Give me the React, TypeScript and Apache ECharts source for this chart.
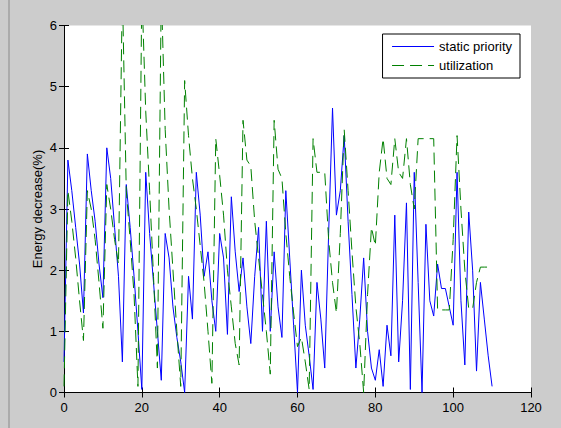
import React, { useEffect, useRef } from "react";
import * as echarts from "echarts";

const xTicks = [0, 20, 40, 60, 80, 100, 120];
const yTicks = [0, 1, 2, 3, 4, 5, 6];

const staticPriority = [
  0.5, 3.8, 3.3, 2.7, 2.1, 1.3, 3.9, 3.3, 2.8, 2.1,
  1.55, 4.0, 3.5, 2.7, 1.9, 0.5, 3.4, 2.7, 1.9, 1.0,
  0.05, 3.6, 2.6, 1.8, 1.0, 0.2, 2.6, 2.2, 1.4, 0.9,
  0.5, 0.0, 1.9, 1.2, 3.6, 2.9, 1.9, 2.3, 1.5, 1.0,
  2.6, 2.2, 0.95, 3.2, 2.3, 1.65, 2.2, 1.4, 0.8, 1.9,
  2.7, 1.0, 2.8, 1.0, 2.3, 1.4, 0.9, 3.3, 2.2, 1.1,
  0.0, 2.0, 1.1, 0.6, 0.05, 1.8, 1.2, 0.4, 2.6, 4.65,
  2.9, 3.3, 4.2, 2.8, 1.6, 0.4, 1.2, 2.2, 1.0, 0.4,
  0.2, 0.7, 0.1, 1.1, 0.6, 2.9, 0.5, 1.5, 3.1, 0.05,
  3.6, 1.8, 0.0, 2.75, 1.5, 1.25, 2.1, 1.7, 1.7, 1.4,
  1.1, 3.6, 1.5, 0.45, 2.95, 2.0, 0.35, 1.8, 1.2, 0.6,
  0.1,
];

const utilization = [
  0.1, 3.3, 2.8, 2.2, 1.5, 0.85, 3.3, 3.0, 2.5, 1.8,
  1.05, 3.4, 3.0, 2.5, 2.1, 6.6, 3.3, 2.5, 1.6, 0.1,
  6.6, 4.6, 3.3, 1.9, 0.4, 6.6, 4.3, 3.0, 2.0, 1.0,
  0.1, 5.1, 4.2, 3.5, 3.0, 2.4, 1.8, 1.0, 0.15, 4.15,
  3.55, 2.9, 2.0, 1.4, 0.8, 0.45, 4.45, 3.8, 3.7, 2.8,
  2.2, 1.6, 1.0, 0.3, 4.45, 3.65, 3.5, 2.6, 1.9, 1.3,
  0.75, 0.9, 0.5, 0.05, 4.15, 3.6, 3.6, 3.6, 2.5, 1.8,
  1.3, 2.6, 4.3, 3.3, 2.3, 1.4, 0.8, 0.0, 1.6, 2.7,
  2.4, 3.6, 4.15, 3.5, 3.4, 4.15, 3.6, 3.5, 4.15, 3.4,
  3.0, 4.15, 4.15, 4.15, 4.15, 4.15, 1.35, 1.35, 1.35, 1.35,
  2.5, 4.2, 3.0, 2.0, 1.37, 1.37, 1.8, 2.05, 2.05, 2.05,
];

const FONT = "'Liberation Sans', Arial, sans-serif";

export default function App() {
  const ref = useRef<HTMLDivElement>(null);

  useEffect(() => {
    if (!ref.current) return;
    const chart = echarts.init(ref.current, undefined, { renderer: "svg" });
    const xMin = xTicks[0];
    const xMax = xTicks[xTicks.length - 1];
    const yMin = yTicks[0];
    const yMax = yTicks[yTicks.length - 1];
    const axisCommon = {
      axisLine: { show: true, lineStyle: { color: "#000", width: 1 } },
      axisTick: { show: true, inside: true, length: 5, lineStyle: { color: "#000" } },
      splitLine: { show: false },
    };
    chart.setOption({
      animation: false,
      backgroundColor: "#cccccc",
      textStyle: { fontFamily: FONT },
      graphic: [
        {
          type: "line",
          shape: { x1: 9, y1: 0, x2: 9, y2: 428 },
          style: { stroke: "#8a8a8a", lineWidth: 1 },
        },
      ],
      grid: { left: 64, right: 30, top: 25.5, bottom: 35.5, show: true, backgroundColor: "#ffffff", borderWidth: 0 },
      legend: {
        right: 41,
        top: 34,
        orient: "vertical",
        backgroundColor: "#ffffff",
        borderColor: "#000",
        borderWidth: 1,
        borderRadius: 0,
        padding: [6, 8, 6, 9],
        itemGap: 6,
        itemWidth: 42,
        itemHeight: 12,
        itemStyle: { color: "transparent", borderWidth: 0, opacity: 0 },
        lineStyle: { width: 1 },
        textStyle: { fontSize: 13, color: "#000", fontFamily: FONT },
        data: ["static priority", "utilization"],
      },
      xAxis: [
        {
          type: "value",
          min: xMin,
          max: xMax,
          interval: 20,
          position: "bottom",
          ...axisCommon,
          axisLabel: { color: "#000", fontSize: 13, margin: 8, fontFamily: FONT },
        },
        {
          type: "value",
          min: xMin,
          max: xMax,
          interval: 20,
          position: "top",
          ...axisCommon,
          axisLabel: { show: false },
        },
      ],
      yAxis: [
        {
          type: "value",
          min: yMin,
          max: yMax,
          interval: 1,
          position: "left",
          ...axisCommon,
          axisLabel: { color: "#000", fontSize: 13, margin: 7, fontFamily: FONT },
          name: "Energy decrease(%)",
          nameLocation: "middle",
          nameGap: 20,
          nameMoveOverlap: false,
          nameTextStyle: { color: "#000", fontSize: 13, fontFamily: FONT },
        },
        {
          type: "value",
          min: yMin,
          max: yMax,
          interval: 1,
          position: "right",
          ...axisCommon,
          axisLabel: { show: false },
        },
      ],
      series: [
        {
          name: "static priority",
          type: "line",
          data: staticPriority.map((v, i) => [i, v]),
          symbol: "none",
          clip: true,
          lineStyle: { color: "#0000ff", width: 1 },
          itemStyle: { color: "#0000ff" },
        },
        {
          name: "utilization",
          type: "line",
          data: utilization.map((v, i) => [i, v]),
          symbol: "none",
          clip: true,
          lineStyle: { color: "#008000", width: 1, type: [12, 6] },
          itemStyle: { color: "#008000" },
        },
      ],
    });
    return () => chart.dispose();
  }, []);

  return (
    <div
      ref={ref}
      style={{ position: "absolute", left: 0, top: 0, width: 561, height: 428 }}
    />
  );
}
